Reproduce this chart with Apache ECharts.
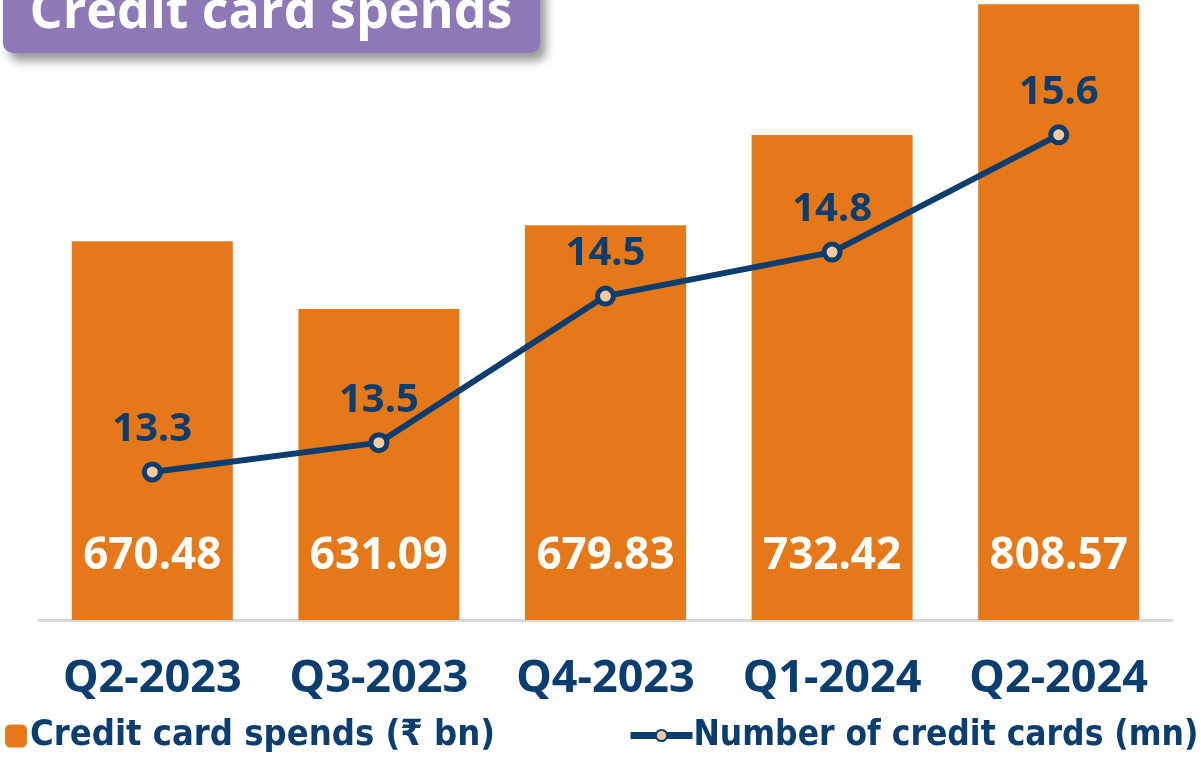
<!DOCTYPE html>
<html>
<head>
<meta charset="utf-8">
<script src="https://cdn.jsdelivr.net/npm/echarts@6/dist/echarts.min.js"></script>
<style>
    html, body { margin: 0; padding: 0; background: #fff; }
    #main { width: 1201px; height: 757px; }
</style>
</head>
<body>
<div id="main"></div>
<script>
var quarters = ['Q2-2023', 'Q3-2023', 'Q4-2023', 'Q1-2024', 'Q2-2024'];
var spends = [670.48, 631.09, 679.83, 732.42, 808.57];
var cards = [13.3, 13.5, 14.5, 14.8, 15.6];

var navy = '#0b3d6f';
var orange = '#e57818';
var numFont = 'Noto Sans';
var legendFont = 'DejaVu Sans Condensed';

var chartDom = document.getElementById('main');
var myChart = echarts.init(chartDom);

var option = {
    animation: false,
    graphic: [
        {
            type: 'rect',
            left: 3,
            top: -20,
            shape: { width: 537, height: 73, r: 10 },
            style: {
                fill: '#8c79b6',
                shadowBlur: 10,
                shadowOffsetX: 6,
                shadowOffsetY: 8,
                shadowColor: 'rgba(0,0,0,0.4)'
            },
            z: 10
        },
        {
            type: 'text',
            x: 271,
            y: 13,
            style: {
                text: 'Credit card spends',
                fill: '#fff',
                font: 'bold 52px "Open Sans"',
                align: 'center',
                verticalAlign: 'middle'
            },
            z: 11
        }
    ],
    legend: [
        {
            data: ['Credit card spends (₹ bn)'],
            left: 5,
            top: 718,
            padding: 0,
            itemWidth: 22,
            itemHeight: 23,
            itemGap: 4,
            textStyle: { color: navy, fontSize: 36, fontWeight: 'bold', fontFamily: legendFont, padding: [0, 0, 0, -2] }
        },
        {
            data: ['Number of credit cards (mn)'],
            left: 627,
            top: 718,
            padding: 0,
            itemWidth: 62,
            itemHeight: 14,
            lineStyle: { width: 7, color: navy },
            textStyle: { color: navy, fontSize: 35, fontWeight: 'bold', fontFamily: legendFont, padding: [0, 0, 0, -4] }
        }
    ],
    grid: {
        left: 39,
        right: 29,
        top: 0,
        bottom: 137,
        containLabel: false
    },
    xAxis: {
        type: 'category',
        data: quarters,
        axisLine: { lineStyle: { color: '#d9d9d9', width: 3 } },
        axisTick: { show: false },
        axisLabel: {
            interval: 0,
            color: navy,
            fontSize: 45,
            fontWeight: 'bold',
            fontFamily: numFont,
            margin: 37
        }
    },
    yAxis: [
        {
            type: 'value',
            min: 450,
            max: 811,
            show: false,
            splitLine: { show: false }
        },
        {
            type: 'value',
            min: 12.29,
            max: 16.52,
            show: false,
            splitLine: { show: false }
        }
    ],
    series: [
        {
            name: 'Credit card spends (₹ bn)',
            type: 'bar',
            data: spends,
            barWidth: 161,
            itemStyle: { color: orange },
            label: {
                show: true,
                position: 'insideBottom',
                distance: 42,
                color: '#fff',
                fontSize: 44,
                fontWeight: 'bold',
                fontFamily: numFont
            }
        },
        {
            name: 'Number of credit cards (mn)',
            type: 'line',
            yAxisIndex: 1,
            data: cards,
            symbol: 'circle',
            symbolSize: 16,
            lineStyle: { color: navy, width: 6 },
            itemStyle: { color: '#f6c9a0', borderColor: navy, borderWidth: 5 },
            label: {
                show: true,
                position: 'top',
                distance: 12,
                color: navy,
                fontSize: 40,
                fontWeight: 'bold',
                fontFamily: numFont
            },
            z: 5
        }
    ]
};
option && myChart.setOption(option);
</script>
</body>
</html>
